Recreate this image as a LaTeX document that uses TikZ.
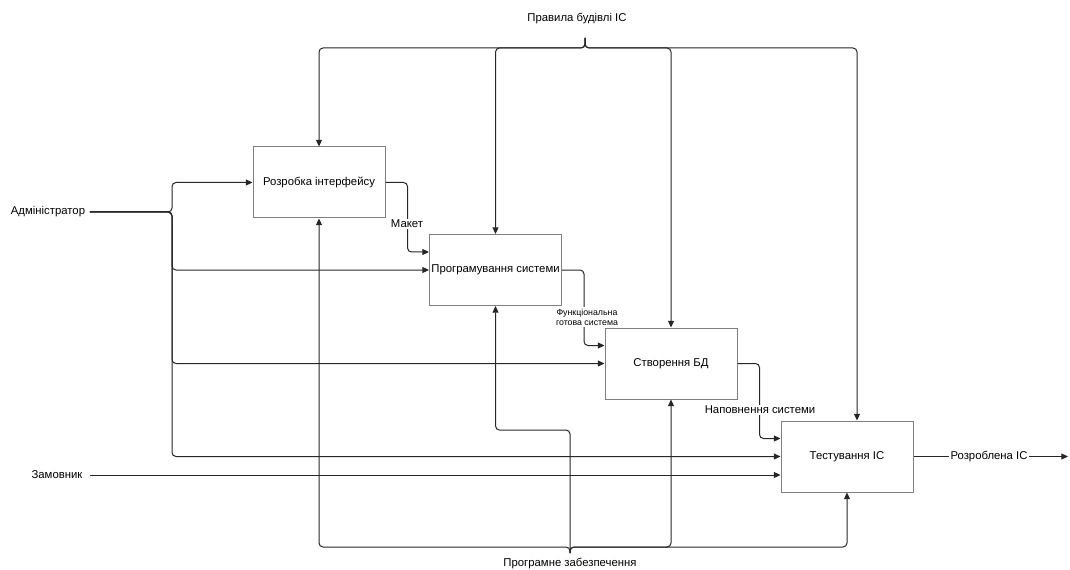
\documentclass[tikz,border=0pt]{standalone}
\usepackage{fontspec}
\setmainfont{Liberation Sans}
\usetikzlibrary{arrows.meta,calc}

\begin{document}
\begin{tikzpicture}[x=0.75pt,y=-0.75pt,
  every node/.style={font=\fontsize{8.5}{10}\selectfont},
  func/.style={draw=black!50, line width=0.75pt, fill=white, minimum width=99pt, minimum height=53.25pt, inner sep=0pt},
  flow/.style={draw=black!85, line width=0.75pt, rounded corners=3pt, -{Triangle[length=5pt,width=4.5pt]}},
  tag/.style={fill=white, inner sep=1pt},
  smalltag/.style={tag, font=\fontsize{6.6}{7.5}\selectfont, align=center}]
\useasboundingbox (0,0) rectangle (1070,570);

% functions
\node[func] (interf) at (319,182.5) {Розробка інтерфейсу};
\node[func] (prog) at (495.5,270) {Програмування системи};
\node[func] (db) at (671,363.5) {Створення БД};
\node[func] (test) at (847,456.5) {Тестування ІС};

% outer labels
\node (admin) at (48,212) {Адміністратор};
\node (client) at (57,475) {Замовник};
\node (rules) at (577,19) {Правила будівлі ІС};
\node (soft) at (570,564) {Програмне забезпечення};

\coordinate (rj) at (585,38);
\coordinate (topbar) at (585,48);
\coordinate (aj) at (172,212);
\coordinate (bj) at (570,553);
\coordinate (botbar) at (570,547);
\coordinate (swbend) at (570,430);
\coordinate (outend) at (1068,456.5);

% controls
\draw[flow] (rj) -- (topbar) -- (interf.north |- topbar) -- (interf.north);
\draw[flow] (rj) -- (topbar) -- (prog.north |- topbar) -- (prog.north);
\draw[flow] (rj) -- (topbar) -- (db.north |- topbar) -- (db.north);
\draw[flow] (rj) -- (topbar) -- ($(test.north |- topbar)+(10,0)$) -- ($(test.north)+(10,0)$);

% inputs
\draw[flow] (admin.east) -- (aj) |- (interf.west);
\draw[flow] (admin.east) -- (aj) |- (prog.west);
\draw[flow] (admin.east) -- (aj) |- (db.west);
\draw[flow] (admin.east) -- (aj) |- (test.west);
\draw[flow] ([xshift=2pt]client.east) -- (client.east -| test.west);

% mechanisms
\draw[flow] (bj) -- (botbar) -- (interf.south |- botbar) -- (interf.south);
\draw[flow] (bj) -- (swbend) -- (prog.south |- swbend) -- (prog.south);
\draw[flow] (bj) -- (botbar) -- (db.south |- botbar) -- (db.south);
\draw[flow] (bj) -- (botbar) -- (test.south |- botbar) -- (test.south);

% outputs
\draw[flow] (interf.east) -- ++(22,0) |- ($(prog.west)+(0,-18)$);
\draw[flow] (prog.east) -- ++(22,0) |- ($(db.west)+(0,-18)$);
\draw[flow] (db.east) -- ++(22,0) |- ($(test.west)+(0,-18)$);
\draw[flow] (test.east) -- (outend);

\node[tag] (maket) at (407,224) {Макет};
\node[smalltag] (ready) at (587,317) {Функціональна\\готова система};
\node[tag] (fill) at (760,410) {Наповнення системи};
\node[tag] (result) at (989,456.5) {Розроблена ІС};
\end{tikzpicture}
\end{document}
